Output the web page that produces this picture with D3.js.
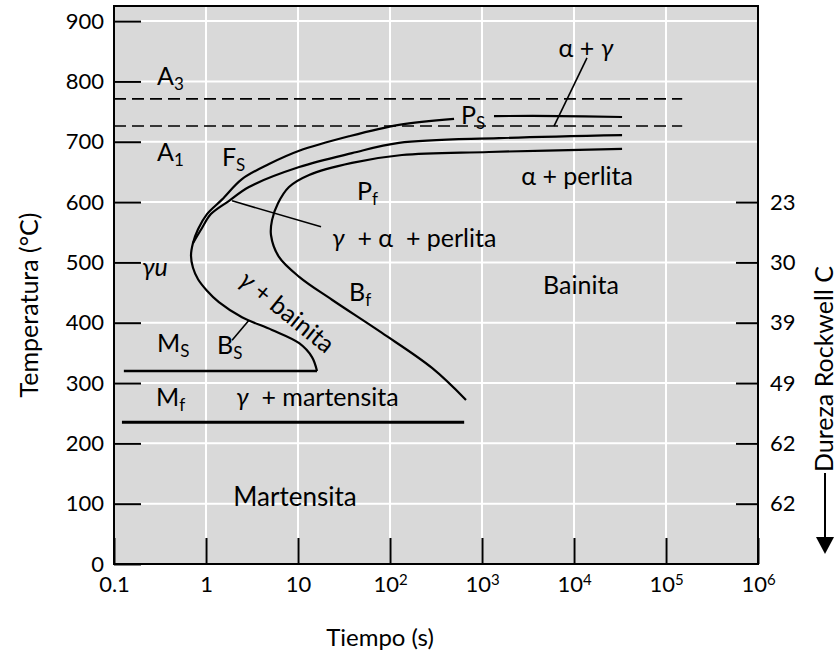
<!DOCTYPE html>
<html>
<head>
<meta charset="utf-8">
<script src="https://cdn.jsdelivr.net/npm/d3@7/dist/d3.min.js"></script>
<style>
  body { margin: 0; background: #fff; }
  svg text { font-family: Lato, "Open Sans", sans-serif; fill: #000; }
</style>
</head>
<body>
<svg id="chart" width="837" height="663"></svg>
<script>
// axis data
var tempTicks = [0, 100, 200, 300, 400, 500, 600, 700, 800, 900];
var timeTicks = [0.1, 1, 10, 100, 1e3, 1e4, 1e5, 1e6];
var timeBase = ['0.1', '1', '10', '10', '10', '10', '10', '10'];
var timeExp = ['', '', '', '2', '3', '4', '5', '6'];
var gridTimes = [1, 10, 100, 1e3, 1e4, 1e5];
var hardnessTemps = [600, 500, 400, 300, 200, 100];
var hardnessLabels = ['23', '30', '39', '49', '62', '62'];

// critical temperatures (dashed) and martensite lines
var a3Line = [[0.1, 771], [1.5e5, 771]];
var a1Line = [[0.1, 726], [1.5e5, 726]];
var msLine = [[0.128, 320], [16.1, 320]];
var mfLine = [[0.122, 235], [640, 235]];

// transformation curves [time s, temp C]
var outerCurve = [[497, 738], [125, 728], [35.8, 709], [10.3, 685], [4.84, 663], [2.46, 638],
  [1.49, 604], [1.025, 580], [0.819, 555], [0.722, 532], [0.687, 511], [0.722, 491],
  [0.819, 472], [1.025, 453], [1.38, 434], [2.46, 409], [5.22, 388], [10.3, 366],
  [14.2, 343], [16.1, 320]];
var middleCurve = [[33300, 711], [1530, 706], [125, 698], [38.6, 681], [10.3, 658],
  [2.93, 625], [1.78, 602], [1.13, 580], [0.905, 557], [0.722, 532]];
var finishCurve = [[33300, 688], [1190, 683], [135, 678], [38.6, 665], [13.2, 645],
  [7.98, 625], [6.06, 598], [5.22, 570], [5.09, 545], [6.21, 509], [10.3, 476],
  [23.4, 438], [81.8, 383], [286, 325], [670, 272]];
var psShort = [[1350, 742.6], [6870, 742.6], [33300, 741]];

// leader lines
var leaders = [
  [[13840, 839], [6065, 726]],
  [[1.92, 602], [17.8, 559]],
  [[2.93, 404], [1.92, 371]]
];

// region labels
var labels = [
  {text: 'A', sub: '3', t: 0.293, T: 809},
  {text: 'A', sub: '1', t: 0.293, T: 683},
  {text: 'F', sub: 'S', t: 1.49, T: 675},
  {text: 'P', sub: 'f', t: 43.8, T: 618},
  {text: 'P', sub: 'S', t: 591, T: 744},
  {text: 'α + γ', t: 13500, T: 855, anchor: 'middle'},
  {text: 'α + perlita', t: 10800, T: 643, anchor: 'middle'},
  {text: 'γ\u00a0 + α\u00a0 + perlita', t: 23.4, T: 540},
  {text: 'B', sub: 'f', t: 35.8, T: 451},
  {text: 'Bainita', t: 11900, T: 462, anchor: 'middle'},
  {text: 'γu', t: 0.201, T: 492, italic: true},
  {text: 'M', sub: 'S', t: 0.293, T: 366},
  {text: 'B', sub: 'S', t: 1.32, T: 363},
  {text: 'M', sub: 'f', t: 0.286, T: 277},
  {text: 'γ\u00a0 + martensita', t: 2.12, T: 277},
  {text: 'γ + bainita', t: 7.59, T: 418, anchor: 'middle', rotate: 39},
  {text: 'Martensita', t: 9.27, T: 111, anchor: 'middle', narrow: true}
];

var svg = d3.select('#chart');
var x = d3.scaleLog().domain([0.1, 1e6]).range([114, 758]);
var y = d3.scaleLinear().domain([0, 925]).range([564, 6]);
var x0 = x.range()[0], x1 = x.range()[1], y0 = y.range()[0], y1 = y.range()[1];

svg.append('rect')
  .attr('x', x0).attr('y', y1)
  .attr('width', x1 - x0).attr('height', y0 - y1)
  .attr('fill', '#d9d9d9');

// white grid
var grid = svg.append('g').attr('stroke', '#fff').attr('stroke-width', 2);
grid.selectAll('.h').data(tempTicks.slice(1)).enter().append('line')
  .attr('x1', x0).attr('x2', x1)
  .attr('y1', d => y(d)).attr('y2', d => y(d));
grid.selectAll('.v').data(gridTimes).enter().append('line')
  .attr('y1', y0).attr('y2', y1)
  .attr('x1', d => x(d)).attr('x2', d => x(d));

function styleAxis(g) {
  g.select('.domain').remove();
  g.selectAll('.tick line').attr('stroke', '#000').attr('stroke-width', 2);
  g.selectAll('.tick text').attr('font-size', 22).attr('fill', '#000')
    .attr('font-family', 'Lato, sans-serif');
}

svg.append('g')
  .attr('transform', `translate(${x0},0)`)
  .call(d3.axisLeft(y).tickValues(tempTicks).tickSizeInner(-27).tickSizeOuter(0).tickPadding(10))
  .call(styleAxis);

svg.append('g')
  .attr('transform', `translate(${x1},0)`)
  .call(d3.axisRight(y).tickValues(hardnessTemps).tickSizeInner(-22).tickSizeOuter(0).tickPadding(12)
    .tickFormat((d, i) => hardnessLabels[i]))
  .call(styleAxis);

var bottom = svg.append('g')
  .attr('transform', `translate(0,${y0})`)
  .call(d3.axisBottom(x).tickValues(timeTicks).tickSizeInner(-26).tickSizeOuter(0).tickPadding(12)
    .tickFormat(''))
  .call(styleAxis);
bottom.selectAll('.tick text').each(function(d, i) {
  var t = d3.select(this).text(timeBase[i]);
  if (timeExp[i]) t.append('tspan').attr('dy', '-0.45em').attr('font-size', 15).text(timeExp[i]);
});

// lines
var line = d3.line().x(d => x(d[0])).y(d => y(d[1]));
var curve = d3.line().x(d => x(d[0])).y(d => y(d[1])).curve(d3.curveCatmullRom.alpha(0.5));

[a3Line, a1Line].forEach(function(l) {
  svg.append('path').attr('d', line(l)).attr('fill', 'none')
    .attr('stroke', '#000').attr('stroke-width', 1.6).attr('stroke-dasharray', '12,6');
});
svg.append('path').attr('d', line(msLine)).attr('fill', 'none').attr('stroke', '#000').attr('stroke-width', 2.5);
svg.append('path').attr('d', line(mfLine)).attr('fill', 'none').attr('stroke', '#000').attr('stroke-width', 3.2);

[outerCurve, middleCurve, finishCurve, psShort].forEach(function(c) {
  svg.append('path').attr('d', curve(c)).attr('fill', 'none')
    .attr('stroke', '#000').attr('stroke-width', 2.2);
});
leaders.forEach(function(l) {
  svg.append('path').attr('d', line(l)).attr('fill', 'none').attr('stroke', '#000').attr('stroke-width', 1.6);
});

// labels, gamma set in italic
function addParts(sel, str) {
  str.split(/(γ)/).forEach(function(part) {
    if (!part) return;
    var ts = sel.append('tspan').text(part);
    if (part === 'γ') ts.attr('font-style', 'italic');
  });
}
labels.forEach(function(d) {
  var px = x(d.t), py = y(d.T);
  var t = svg.append('text')
    .attr('x', px).attr('y', py).attr('dy', '0.35em')
    .attr('font-size', 25)
    .attr('text-anchor', d.anchor || 'start');
  addParts(t, d.text);
  if (d.italic) t.attr('font-style', 'italic');
  if (d.narrow) t.attr('font-size', 26);
  if (d.rotate) t.attr('transform', `rotate(${d.rotate},${px},${py})`);
  if (d.sub) t.append('tspan').attr('dy', '0.3em').attr('font-size', 17).text(d.sub);
});

// frame
svg.append('rect')
  .attr('x', x0).attr('y', y1)
  .attr('width', x1 - x0).attr('height', y0 - y1)
  .attr('fill', 'none').attr('stroke', '#000').attr('stroke-width', 2);

// axis titles
svg.append('text').attr('x', 380).attr('y', 646).attr('text-anchor', 'middle')
  .attr('font-size', 24).text('Tiempo (s)');
svg.append('text').attr('transform', 'translate(38,305) rotate(-90)').attr('text-anchor', 'middle')
  .attr('font-size', 25).text('Temperatura (°C)');
svg.append('text').attr('transform', 'translate(833,472) rotate(-90)').attr('text-anchor', 'start')
  .attr('font-size', 25).text('Dureza Rockwell C');
svg.append('line').attr('x1', 825).attr('x2', 825).attr('y1', 473).attr('y2', 540)
  .attr('stroke', '#000').attr('stroke-width', 2);
svg.append('path').attr('d', 'M816,537 L834,537 L825,554 Z').attr('fill', '#000');
</script>
</body>
</html>
